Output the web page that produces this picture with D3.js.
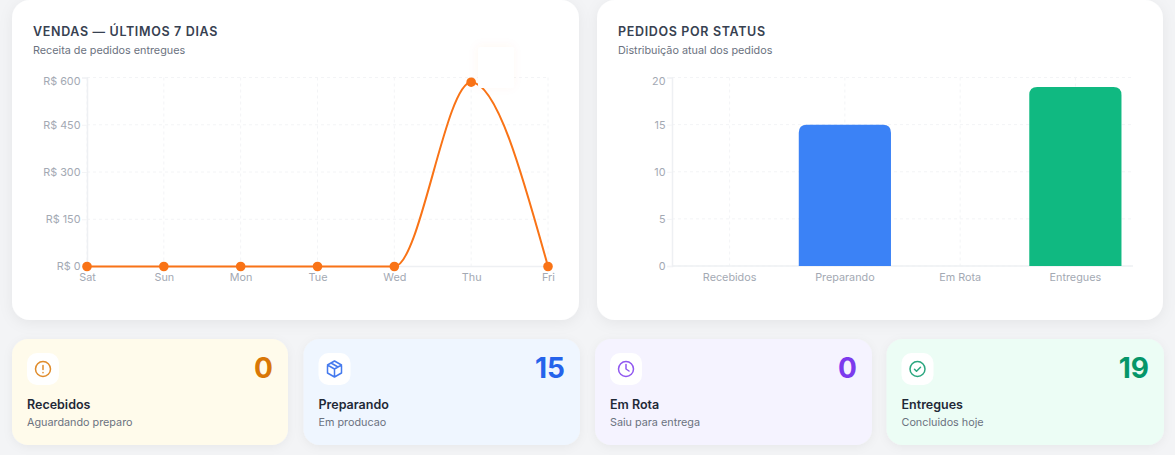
<!DOCTYPE html>
<html><head><meta charset="utf-8">
<script src="https://cdn.jsdelivr.net/npm/d3@7"></script>
<style>
html,body{margin:0;padding:0;background:#f3f4f6;width:1175px;height:455px;overflow:hidden;font-family:Inter,sans-serif}
#stage{display:block}
text{font-family:Inter,sans-serif}
</style></head><body>
<svg id="stage" width="1175" height="455"></svg>
<script>
const days = ["Sat","Sun","Mon","Tue","Wed","Thu","Fri"];
const sales = [0,0,0,0,0,585,0];
const salesTicks = [0,150,300,450,600];
const statuses = ["Recebidos","Preparando","Em Rota","Entregues"];
const statusCounts = [0,15,0,19];
const statusColors = ["#f59e0b","#3b82f6","#8b5cf6","#10b981"];
const statusTicks = [0,5,10,15,20];
const kpiSubs = ["Aguardando preparo","Em producao","Saiu para entrega","Concluidos hoje"];
const kpiBgs = ["#fffbeb","#eff6ff","#f5f3ff","#ecfdf5"];
const kpiInk = ["#d97706","#2563eb","#7c3aed","#059669"];

const svg = d3.select("#stage");
const defs = svg.append("defs");
const mkShadow = (id,dy,sd,op)=>{const f=defs.append("filter").attr("id",id).attr("x","-10%").attr("y","-20%").attr("width","120%").attr("height","140%");
  f.append("feDropShadow").attr("dx",0).attr("dy",dy).attr("stdDeviation",sd).attr("flood-color","#000").attr("flood-opacity",op);};
mkShadow("cardS",3,7,.06); mkShadow("kpiS",2,5,.05);
const blur=defs.append("filter").attr("id","ghost").attr("x","-50%").attr("y","-50%").attr("width","200%").attr("height","200%");
blur.append("feDropShadow").attr("dx",-1).attr("dy",-1).attr("stdDeviation",5).attr("flood-color","#f97316").attr("flood-opacity",.05);

function card(x,w,title,sub){
  svg.append("rect").attr("x",x).attr("y",0).attr("width",w).attr("height",320).attr("rx",18).attr("fill","#fff").attr("filter","url(#cardS)");
  svg.append("text").attr("x",x+21).attr("y",36).attr("font-size",12.5).attr("font-weight",600).attr("letter-spacing",".66px").attr("fill","#374151").text(title);
  svg.append("text").attr("x",x+21).attr("y",54).attr("font-size",10.8).attr("fill","#6b7280").text(sub);
}
card(12,567,"VENDAS — ÚLTIMOS 7 DIAS","Receita de pedidos entregues");
card(597,566,"PEDIDOS POR STATUS","Distribuição atual dos pedidos");

/* line chart */
const x1 = d3.scalePoint().domain(days).range([87,548]);
const y1 = d3.scaleLinear().domain([0,600]).range([266.5,77.5]);
const g1 = svg.append("g").attr("stroke","#f3f4f6").attr("stroke-dasharray","3 3");
g1.selectAll(".h").data(salesTicks).join("line").attr("x1",87).attr("x2",548).attr("y1",d=>y1(d)).attr("y2",d=>y1(d));
g1.selectAll(".v").data(days).join("line").attr("x1",d=>x1(d)).attr("x2",d=>x1(d)).attr("y1",77.5).attr("y2",266.5);
const axX1 = svg.append("g").attr("transform","translate(0,266.5)").call(d3.axisBottom(x1).tickSize(0).tickPadding(6.5));
const axY1 = svg.append("g").attr("transform","translate(87,0)").call(d3.axisLeft(y1).tickValues(salesTicks).tickFormat(d=>"R$ "+d).tickSize(5).tickPadding(1.5));
svg.append("path").attr("fill","none").attr("stroke","#f97316").attr("stroke-width",2)
  .attr("d",d3.line().x((d,i)=>x1(days[i])).y(d=>y1(d)).curve(d3.curveMonotoneX)(sales));
svg.append("g").selectAll("circle").data(sales).join("circle").attr("cx",(d,i)=>x1(days[i])).attr("cy",d=>y1(d)).attr("r",4.8).attr("fill","#f97316");
svg.append("rect").attr("x",478).attr("y",47).attr("width",36).attr("height",41).attr("rx",3).attr("fill","#fff").attr("filter","url(#ghost)");

/* bar chart */
const x2 = d3.scaleBand().domain(statuses).range([672,1133]).paddingInner(.2).paddingOuter(.1);
const y2 = d3.scaleLinear().domain([0,20]).range([266,77.5]);
const g2 = svg.append("g").attr("stroke","#f3f4f6").attr("stroke-dasharray","3 3");
g2.selectAll(".h").data(statusTicks).join("line").attr("x1",672).attr("x2",1133).attr("y1",d=>y2(d)).attr("y2",d=>y2(d));
g2.selectAll(".v").data(statuses).join("line").attr("x1",d=>x2(d)+x2.bandwidth()/2).attr("x2",d=>x2(d)+x2.bandwidth()/2).attr("y1",77.5).attr("y2",266);
const axX2 = svg.append("g").attr("transform","translate(0,266)").call(d3.axisBottom(x2).tickSize(0).tickPadding(7));
const axY2 = svg.append("g").attr("transform","translate(672,0)").call(d3.axisLeft(y2).tickValues(statusTicks).tickSize(5).tickPadding(1.5));
const r=8;
svg.append("g").selectAll("path").data(statusCounts).join("path")
  .attr("fill",(d,i)=>statusColors[i])
  .attr("d",(d,i)=>{ if(!d) return null; const a=x2(statuses[i]),w=x2.bandwidth(),t=y2(d),b=y2(0);
    return `M${a},${b}V${t+r}Q${a},${t} ${a+r},${t}H${a+w-r}Q${a+w},${t} ${a+w},${t+r}V${b}Z`;});

[axX1,axY1,axX2,axY2].forEach(a=>{
  a.selectAll("text").attr("fill","#a3a9b3").attr("font-size",10.8).attr("font-family","Inter,sans-serif");
  a.selectAll("line").attr("stroke","#f3f4f6");
  a.select(".domain").attr("stroke","#eef0f3").attr("stroke-width",1.5);
});
axY1.selectAll("text").attr("dy",".32em").filter(d=>d===600).attr("dy",".66em");
axY2.selectAll("text").attr("dy",".32em").filter(d=>d===20).attr("dy",".66em");
axX1.select(".domain").attr("d","M87,0H548");
axX2.select(".domain").attr("d","M672,0H1133");

/* KPI cards */
const kpiX = d3.scaleOrdinal().domain(statuses).range([12,303.5,595,886.5]);
const kpiW = [276,276.5,277,277.5];
const iconFns = [
 g=>{g.append("circle").attr("r",7.5);g.append("path").attr("d","M0,-3.5V0.5M0,3.6V3.7");},
 g=>{g.append("path").attr("d","M0,-8L7,-4V4L0,8L-7,4V-4ZM-7,-4L0,0L7,-4M0,0V8M-3.5,-6L3.5,-2");},
 g=>{g.append("circle").attr("r",7.5);g.append("path").attr("d","M0,-4.5V0L3,2");},
 g=>{g.append("circle").attr("r",7.5);g.append("path").attr("d","M-3,0.2L-1,2.2L3,-1.8");}
];
statuses.forEach((s,i)=>{
  const x=kpiX(s), g=svg.append("g");
  g.append("rect").attr("x",x).attr("y",339).attr("width",kpiW[i]).attr("height",106).attr("rx",16).attr("fill",kpiBgs[i]).attr("filter","url(#kpiS)");
  g.append("rect").attr("x",x+15).attr("y",353).attr("width",32).attr("height",32).attr("rx",10).attr("fill","#fff");
  const ic=g.append("g").attr("transform",`translate(${x+31},369)`).attr("fill","none").attr("stroke",kpiInk[i]).attr("stroke-width",1.5).attr("stroke-opacity",.85).attr("stroke-linecap","round").attr("stroke-linejoin","round");
  iconFns[i](ic);
  g.append("text").attr("x",x+kpiW[i]-15).attr("y",378).attr("text-anchor","end").attr("font-size",28).attr("font-weight",700).attr("fill",kpiInk[i]).text(statusCounts[i]);
  g.append("text").attr("x",x+15).attr("y",409).attr("font-size",12.5).attr("font-weight",600).attr("fill","#1f2937").text(s);
  g.append("text").attr("x",x+15).attr("y",426).attr("font-size",10.8).attr("fill","#6b7280").text(kpiSubs[i]);
});
</script></body></html>
